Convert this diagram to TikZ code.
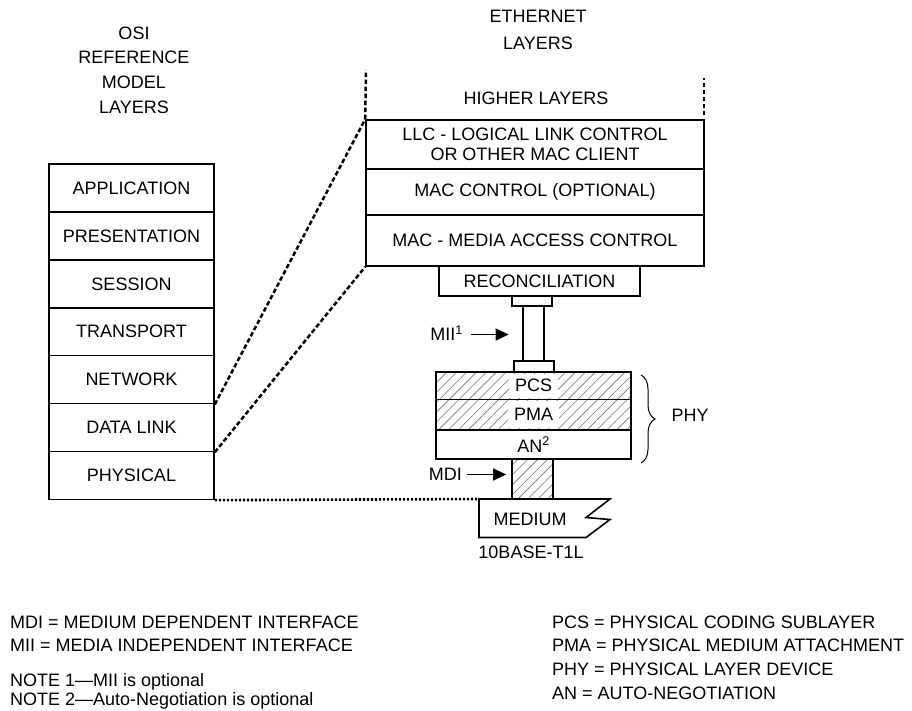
\documentclass[tikz,border=0pt]{standalone}
\usepackage{fontspec}
\setmainfont{Liberation Sans}
\usetikzlibrary{patterns.meta,decorations.pathreplacing,arrows.meta}
\begin{document}
\begin{tikzpicture}[x=1pt,y=-1pt,
  txt/.style={font=\fontsize{18}{20}\selectfont, inner sep=0pt},
  layer/.style={draw, line width=1.6pt, font=\fontsize{18}{20}\selectfont, inner sep=0pt, align=center},
  hatch/.style={pattern={Lines[angle=45,distance=7pt,line width=0.6pt]}, pattern color=black!55},
  dashlink/.style={line width=2.5pt, dash pattern=on 4.5pt off 2.5pt},
  dotlink/.style={line width=2.6pt, dash pattern=on 2.4pt off 1.6pt},
  pointer/.style={line width=1pt, -{Triangle[length=13pt,width=12pt]}},
  note/.style={font=\fontsize{18}{20}\selectfont, inner sep=0pt, anchor=base west}]
\useasboundingbox (0,0) rectangle (912,710);
\fill[white] (0,0) rectangle (912,710);

% headers
\node[txt, align=center, font=\fontsize{18}{24.7}\selectfont] (osihead) at (134,70) {OSI\\REFERENCE\\MODEL\\LAYERS};
\node[txt, align=center, font=\fontsize{18}{27}\selectfont] (ethhead) at (538,29.5) {ETHERNET\\LAYERS};

% OSI stack
\foreach \nm/\t [count=\i from 0] in {app/APPLICATION,pres/PRESENTATION,sess/SESSION,trans/TRANSPORT,net/NETWORK,dl/DATA LINK,phys/PHYSICAL}
  \node[layer, minimum width=165pt, minimum height=47.9pt] (\nm) at (131.5,{188+47.9*\i}) {\t};

% Ethernet stack
\node[txt] (higher) at (536,98) {HIGHER LAYERS};
\node[layer, minimum width=338pt, minimum height=49pt] (llc) at (535,144.5) {LLC - LOGICAL LINK CONTROL\\OR OTHER MAC CLIENT};
\node[layer, minimum width=338pt, minimum height=46pt] (macctl) at (535,192) {MAC CONTROL (OPTIONAL)};
\node[layer, minimum width=338pt, minimum height=51pt] (mac) at (535,240.5) {MAC - MEDIA ACCESS CONTROL};
\node[layer, minimum width=201pt, minimum height=30pt] (recon) at (539.5,281) {RECONCILIATION};

% MII connector
\node[layer, minimum width=40pt, minimum height=10pt] (miitop) at (532,301) {};
\node[layer, minimum width=21pt, minimum height=55pt] (miirod) at (533.5,333.5) {};
\node[layer, minimum width=40pt, minimum height=11pt] (miibot) at (534,366.5) {};

% PHY
\node[layer, hatch, minimum width=195pt, minimum height=27.5pt] (pcs) at (533.5,385.75) {};
\node[txt, fill=white, inner xsep=6pt, minimum height=24pt] (pcsl) at (pcs) {PCS};
\node[layer, hatch, minimum width=195pt, minimum height=30.5pt] (pma) at (533.5,414.75) {};
\node[txt, fill=white, inner xsep=6pt, minimum height=27pt] (pmal) at (pma) {PMA};
\node[layer, minimum width=195pt, minimum height=29pt] (an) at (533.5,444.5) {AN\textsuperscript{2}};

% MDI
\node[layer, hatch, minimum width=41pt, minimum height=39.5pt] (mdi) at (532.5,478.75) {};

% Medium
\coordinate (medtl) at (479,499);
\draw[line width=1.6pt, line join=miter] (medtl) -- (610,499) -- (586,517.5) -- (610,519.5) -- (586,537.5) -- (479,537.5) -- cycle;
\node[txt] (medium) at (530,519) {MEDIUM};
\node[txt] (base) at (531,552) {10BASE-T1L};

% Brace and PHY
\draw[line width=1pt, decorate, decoration={brace, amplitude=14pt}] (641,375) -- (641,463) coordinate[pos=0.5] (bracemid);
\node[txt] (phy) at (690,415) {PHY};

% pointers
\node[txt, anchor=east] (miilab) at (463,333) {MII\textsuperscript{1}};
\coordinate (miiarr) at (470.5,334.5);
\draw[pointer, shorten >=13.5pt] (miiarr) -- (miiarr -| miirod.west);
\node[txt, anchor=east] (mdilab) at (462,474) {MDI};
\coordinate (mdiarr) at (467,474.5);
\draw[pointer, shorten >=5pt] (mdiarr) -- (mdiarr -| mdi.west);

% links
\draw[dashlink] (net.south east) -- (llc.north west);
\draw[dashlink] (dl.south east) -- (mac.south west);
\coordinate (ltop) at (366,70);
\coordinate (rtop) at (704,78);
\coordinate (rbot) at (704,115);
\draw[dashlink] (llc.north west) -- (ltop);
\draw[dashlink] (rbot) -- (rtop);
\draw[dotlink] (phys.south east) -- (medtl);

% notes
\node[note] (n1) at (10,628.5) {MDI = MEDIUM DEPENDENT INTERFACE};
\node[note] (n2) at (10,651.5) {MII = MEDIA INDEPENDENT INTERFACE};
\node[note] (n3) at (10,686.5) {NOTE 1---MII is optional};
\node[note] (n4) at (10,705.5) {NOTE 2---Auto-Negotiation is optional};
\node[note] (n5) at (552,628.5) {PCS = PHYSICAL CODING SUBLAYER};
\node[note] (n6) at (552,651.5) {PMA = PHYSICAL MEDIUM ATTACHMENT};
\node[note] (n7) at (552,675.5) {PHY = PHYSICAL LAYER DEVICE};
\node[note] (n8) at (552,699.5) {AN = AUTO-NEGOTIATION};
\end{tikzpicture}
\end{document}
